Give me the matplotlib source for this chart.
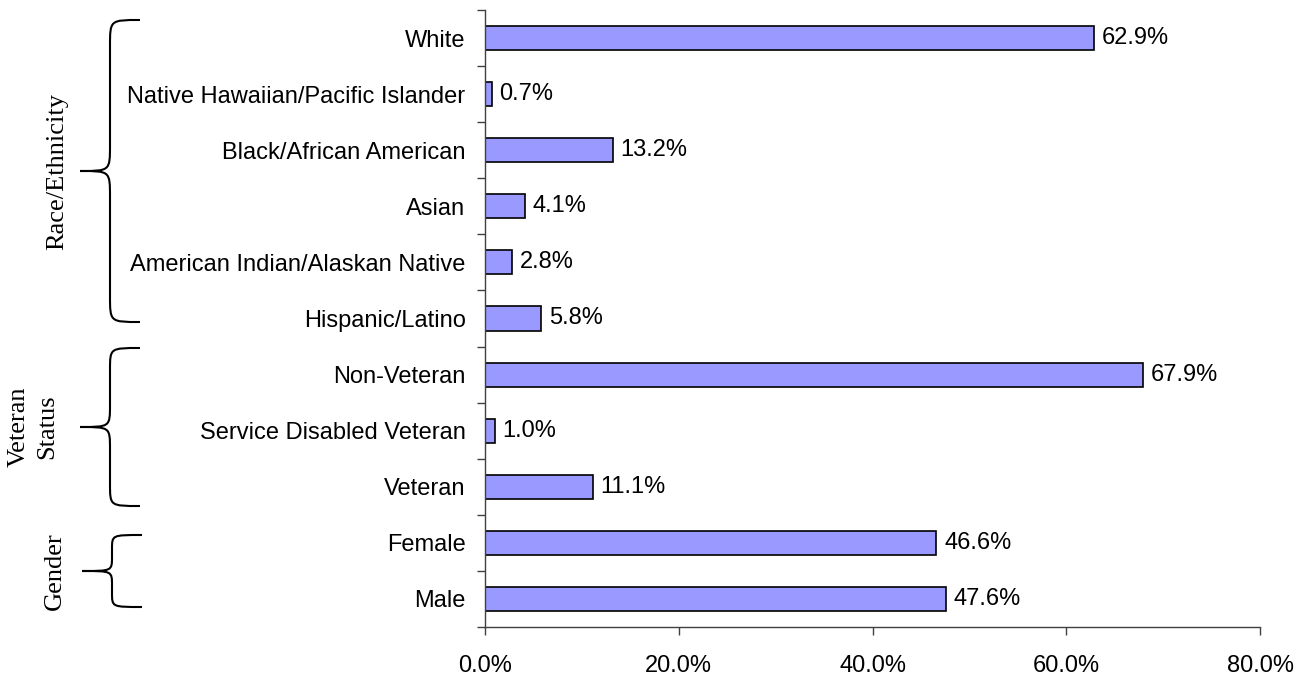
import matplotlib
matplotlib.use("Agg")
import matplotlib.pyplot as plt
from matplotlib.path import Path
from matplotlib.patches import PathPatch
from matplotlib.ticker import FuncFormatter, FixedLocator

# categories listed bottom to top
categories = ["Male", "Female", "Veteran", "Service Disabled Veteran", "Non-Veteran",
              "Hispanic/Latino", "American Indian/Alaskan Native", "Asian",
              "Black/African American", "Native Hawaiian/Pacific Islander", "White"]
shares = [47.6, 46.6, 11.1, 1.0, 67.9, 5.8, 2.8, 4.1, 13.2, 0.7, 62.9]
x_ticks = [0, 20, 40, 60, 80]

# group labels with the range of bar indices they cover
groups = [("Gender", 0, 1), ("Veteran\nStatus", 2, 4), ("Race/Ethnicity", 5, 10)]

W, H = 1303, 675
fig = plt.figure(figsize=(W / 100, H / 100), dpi=100)
ax = fig.add_axes([485 / W, 1 - 627 / H, 775 / W, 617 / H])

sans = "Liberation Sans"
serif = "Liberation Serif"
fs = 17

y = range(len(categories))
ax.barh(y, shares, height=0.43, color="#9999ff", edgecolor="black", linewidth=1.2)
for yi, v in zip(y, shares):
    ax.text(v + 0.8, yi, f"{v:.1f}%", va="center", ha="left", fontsize=fs, family=sans)

ax.set_xlim(0, 80)
ax.set_ylim(-0.5, len(categories) - 0.5)
ax.set_xticks(x_ticks)
ax.xaxis.set_major_formatter(FuncFormatter(lambda v, p: f"{v:.1f}%"))
ax.set_yticks(list(y))
ax.set_yticklabels(categories)
ax.yaxis.set_minor_locator(FixedLocator([i - 0.5 for i in range(len(categories) + 1)]))
ax.tick_params(axis="y", which="major", length=0, pad=14, labelsize=fs)
ax.tick_params(axis="y", which="minor", length=6, width=1, color="#404040")
ax.tick_params(axis="x", length=6, width=1, color="#404040", pad=14, labelsize=fs)
for lab in ax.get_xticklabels() + ax.get_yticklabels():
    lab.set_family(sans)
for s in ("top", "right"):
    ax.spines[s].set_visible(False)
for s in ("left", "bottom"):
    ax.spines[s].set_color("#404040")
    ax.spines[s].set_linewidth(1)

# overlay in pixel coordinates for the braces and group names
ann = fig.add_axes([0, 0, 1, 1], zorder=-1)
ann.set_xlim(0, W)
ann.set_ylim(H, 0)
ann.axis("off")


def brace(x_tip, x_mid, x_end, y_top, y_bot, r):
    y_c = (y_top + y_bot) / 2
    verts = [(x_end, y_top),
             (x_mid, y_top), (x_mid, y_top), (x_mid, y_top + r),
             (x_mid, y_c - r),
             (x_mid, y_c), (x_mid, y_c), (x_tip, y_c),
             (x_mid, y_c), (x_mid, y_c), (x_mid, y_c + r),
             (x_mid, y_bot - r),
             (x_mid, y_bot), (x_mid, y_bot), (x_end, y_bot)]
    codes = [Path.MOVETO,
             Path.CURVE4, Path.CURVE4, Path.CURVE4,
             Path.LINETO,
             Path.CURVE4, Path.CURVE4, Path.CURVE4,
             Path.CURVE4, Path.CURVE4, Path.CURVE4,
             Path.LINETO,
             Path.CURVE4, Path.CURVE4, Path.CURVE4]
    ann.add_patch(PathPatch(Path(verts, codes), fill=False, lw=1.5, color="black"))


# pixel spans of each group's brace
spans = {"Gender": (82, 112, 142, 535, 607, 14),
         "Veteran\nStatus": (80, 110, 140, 348, 506, 22),
         "Race/Ethnicity": (80, 110, 140, 20, 322, 26)}
label_x = {"Gender": 55, "Veteran\nStatus": 33, "Race/Ethnicity": 57}

for name, lo, hi in groups:
    xt, xm, xe, yt, yb, r = spans[name]
    brace(xt, xm, xe, yt, yb, r)
    ann.text(label_x[name], (yt + yb) / 2, name, rotation=90, ha="center", va="center",
             fontsize=19, family=serif, linespacing=1.4)

fig.savefig("out.png", dpi=100)
